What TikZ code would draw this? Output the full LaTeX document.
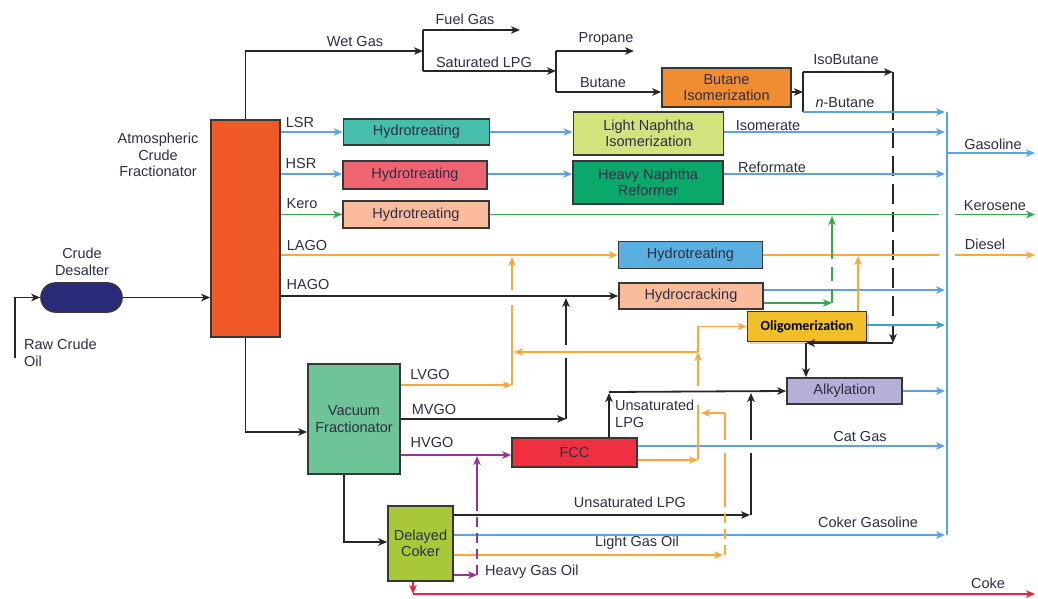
\documentclass[tikz,border=0pt]{standalone}
\usepackage{fontspec}
\setmainfont{Liberation Sans}
\newfontfamily\calib{Carlito}
\usetikzlibrary{arrows.meta,shadows}
\definecolor{lblue}{RGB}{90,165,225}
\definecolor{lorange}{RGB}{250,168,60}
\definecolor{lgreen}{RGB}{50,170,75}
\definecolor{lpurple}{RGB}{150,50,160}
\definecolor{lred}{RGB}{235,35,65}
\definecolor{lteal}{RGB}{55,165,200}
\definecolor{txt}{RGB}{45,45,70}
\definecolor{edge}{RGB}{55,55,55}
\definecolor{cacf}{RGB}{240,90,40}
\definecolor{cdes}{RGB}{40,42,122}
\definecolor{cvf}{RGB}{110,196,150}
\definecolor{ccok}{RGB}{168,200,58}
\definecolor{clsr}{RGB}{70,190,172}
\definecolor{chsr}{RGB}{238,100,112}
\definecolor{cpeach}{RGB}{250,188,155}
\definecolor{clni}{RGB}{212,226,126}
\definecolor{chnr}{RGB}{10,168,106}
\definecolor{cbiso}{RGB}{240,140,50}
\definecolor{cdht}{RGB}{90,175,225}
\definecolor{colig}{RGB}{240,190,40}
\definecolor{calky}{RGB}{180,176,216}
\definecolor{cfcc}{RGB}{238,48,64}
\tikzset{
  box/.style={draw=edge, line width=1.6pt, inner sep=0pt, align=center, text=txt, font=\fontsize{14.5}{16.5}\selectfont},
  lbl/.style={text=txt, font=\fontsize{14.5}{16.5}\selectfont, inner sep=0pt, align=center},
  tip/.style={-{Stealth[length=9pt,width=7.5pt,inset=2.5pt]}},
  kl/.style={draw=black!85, line width=1.8pt},
  bl/.style={draw=lblue, line width=1.8pt},
  ol/.style={draw=lorange, line width=1.8pt},
  gl/.style={draw=lgreen, line width=1.8pt},
  pl/.style={draw=lpurple, line width=1.8pt},
  rl/.style={draw=lred, line width=1.8pt},
  tl/.style={draw=lteal, line width=1.8pt},
  ka/.style={kl,tip}, ba/.style={bl,tip}, oa/.style={ol,tip}, ga/.style={gl,tip},
  pa/.style={pl,tip}, ra/.style={rl,tip}, ta/.style={tl,tip},
}
\begin{document}
\begin{tikzpicture}[x=1pt,y=-1pt]
\useasboundingbox (0,0) rectangle (1038,599);
% ---- units ----
\node[box, fill=cacf, minimum width=69pt, minimum height=217pt] (acf) at (245.5,228.5) {};
\node[box, fill=cdes, minimum width=81pt, minimum height=29pt, rounded corners=14.5pt] (des) at (81.5,297.5) {};
\node[box, fill=cvf, minimum width=92pt, minimum height=110pt] (vf) at (354,419) {Vacuum\\Fractionator};
\node[box, fill=ccok, minimum width=65pt, minimum height=75pt] (cok) at (420.5,543.5) {Delayed\\Coker};
\node[box, fill=clsr, minimum width=146pt, minimum height=26pt] (lsrht) at (416.5,132) {Hydrotreating};
\node[box, fill=chsr, minimum width=144pt, minimum height=28pt] (hsrht) at (415,175) {Hydrotreating};
\node[box, fill=cpeach, minimum width=146pt, minimum height=27pt] (kerht) at (416,214.5) {Hydrotreating};
\node[box, fill=clni, minimum width=150pt, minimum height=43pt] (lni) at (648.5,133.5) {Light Naphtha\\Isomerization};
\node[box, fill=chnr, minimum width=150pt, minimum height=43pt] (hnr) at (648,182.5) {Heavy Naphtha\\Reformer};
\node[box, fill=cbiso, minimum width=129pt, minimum height=39pt] (biso) at (726.5,87.5) {Butane\\Isomerization};
\node[box, fill=cdht, minimum width=144pt, minimum height=27pt] (dht) at (690.5,255) {Hydrotreating};
\node[box, fill=cpeach, minimum width=144pt, minimum height=26pt] (hcr) at (691,296) {Hydrocracking};
\node[box, fill=colig, minimum width=119pt, minimum height=30pt, text=black, font=\calib\bfseries\fontsize{14}{16}\selectfont, drop shadow={shadow xshift=2pt, shadow yshift=-2pt, opacity=0.35}] (olig) at (807,326.5) {Oligomerization};
\node[box, fill=calky, minimum width=115pt, minimum height=26pt] (alky) at (844.5,391) {Alkylation};
\node[box, fill=cfcc, minimum width=125pt, minimum height=29pt] (fcc) at (574.5,452.5) {FCC};
% ---- labels ----
\node[lbl] (tacf) at (158,155) {Atmospheric\\Crude\\Fractionator};
\node[lbl] (tdes) at (82,262) {Crude\\Desalter};
\node[lbl, anchor=north west, align=left] (traw) at (24,339) {Raw Crude\\Oil};
\node[lbl] (twet) at (355,42) {Wet Gas};
\node[lbl] (tfuel) at (465,19) {Fuel Gas};
\node[lbl] (tsat) at (484,62) {Saturated LPG};
\node[lbl] (tprop) at (606,39) {Propane};
\node[lbl] (tbut) at (603,83) {Butane};
\node[lbl] (tiso) at (846,60) {IsoButane};
\node[lbl] (tnbut) at (845,103) {\textit{n}-Butane};
\node[lbl] (tisom) at (768,126) {Isomerate};
\node[lbl] (tref) at (772,167) {Reformate};
\node[lbl] (tgas) at (993,144) {Gasoline};
\node[lbl] (tker) at (995,206) {Kerosene};
\node[lbl] (tdie) at (985,244) {Diesel};
\node[lbl] (tlsr) at (300,123) {LSR};
\node[lbl] (thsr) at (301,164) {HSR};
\node[lbl] (tkero) at (302,204) {Kero};
\node[lbl] (tlago) at (307,246) {LAGO};
\node[lbl] (thago) at (308,285) {HAGO};
\node[lbl] (tlvgo) at (430,375) {LVGO};
\node[lbl] (tmvgo) at (434,410) {MVGO};
\node[lbl] (thvgo) at (432,443) {HVGO};
\node[lbl, anchor=north west, align=left] (tulpg1) at (615,400) {Unsaturated\\LPG};
\node[lbl] (tcat) at (860,437) {Cat Gas};
\node[lbl] (tulpg2) at (630,502) {Unsaturated LPG};
\node[lbl] (tcokg) at (868,522) {Coker Gasoline};
\node[lbl] (tlgo) at (637,543) {Light Gas Oil};
\node[lbl, anchor=west] (thgo) at (485,572) {Heavy Gas Oil};
\node[lbl] (tcoke) at (988,583) {Coke};
% ---- junction coordinates ----
\coordinate (raw) at (15,358);
\coordinate (j1) at (423,51);
\coordinate (j2) at (556,71);
\coordinate (j3) at (803,92);
\coordinate (col) at (947,112);
% ---- crude ----
\draw[ka] (raw) |- (des.west);
\draw[ka] (des.east) -- (acf.west |- des.east);
% ---- gas plant ----
\draw[ka] (acf.north) |- (j1);
\draw[kl] (423,30) -- (423,71);
\draw[ka] (423,30) -- (520,30);
\draw[ka] (423,71) -- (j2);
\draw[kl] (556,51) -- (556,92);
\draw[ka] (556,51) -- (634,51);
\draw[ka] (556,92) -- (biso.west |- 0,92);
\draw[ka] (biso.east |- 0,92) -- (j3);
\draw[kl] (803,72) -- (803,112);
\draw[ka] (803,72) -- (893,72);
\draw[kl] (893,72) -- (893,100);
\draw[ka, dash pattern=on 20pt off 8pt] (893,100) -- (893,343);
\draw[ka] (893,343) -- (806,343);
\draw[ka] (806,343) -- (alky.north -| 806,0);
\draw[ba] (803,112) -- (945,112);
% ---- gasoline collector ----
\draw[bl, line width=2pt] (col) -- (947,535);
\draw[ba] (947,153) -- (1035,153);
% ---- straight run ----
\draw[ba] (acf.east |- lsrht.west) -- (lsrht.west);
\draw[ba] (acf.east |- 0,174) -- (hsrht.west |- 0,174);
\draw[ga] (acf.east |- kerht.west) -- (kerht.west);
\draw[oa] (acf.east |- dht.west) -- (dht.west);
\draw[ka] (acf.east |- hcr.west) -- (hcr.west);
\draw[ba] (lsrht.east) -- (lni.west |- lsrht.east);
\draw[ba] (hsrht.east |- 0,174) -- (hnr.west |- 0,174);
\draw[ba] (lni.east |- 0,132) -- (945,132);
\draw[ba] (hnr.east |- 0,174) -- (945,174);
\draw[gl] (kerht.east) -- (939,214.5);
\draw[ga] (955,214.5) -- (1035,214.5);
\draw[ol] (dht.east) -- (939,255);
\draw[oa] (955,255) -- (1035,255);
\draw[ba] (hcr.east |- 0,290) -- (945,290);
\draw[ga] (hcr.east |- 0,303) -- (832,303);
\draw[gl, dash pattern=on 14pt off 8pt] (832,303) -- (832,250);
\draw[ga] (832,250) -- (832,216);
% ---- oligomerization ----
\draw[ta] (olig.east |- 0,325) -- (945,325);
\draw[ol, tip, line width=1.2pt] (olig.north -| 858,0) -- (858,256);
% ---- vacuum ----
\draw[ka] (acf.south) |- (vf.west |- 0,432);
\draw[ka] (vf.south -| 344,0) |- (cok.west |- 0,542);
\draw[oa] (vf.east |- 0,385) -- (512,385);
\draw[ol] (512,385) -- (512,305);
\draw[oa] (512,290) -- (512,257);
\draw[ka] (vf.east |- 0,419) -- (566,419);
\draw[kl] (566,419) -- (566,358);
\draw[ka] (566,345) -- (566,298);
\draw[pa] (vf.east |- 0,455) -- (fcc.west |- 0,455);
% ---- FCC ----
\draw[ka] (fcc.north -| 609,0) -- (609,393);
\draw[ka] (609,392) -- (alky.west);
\draw[ba] (fcc.east |- 0,446) -- (945,446);
\draw[oa] (fcc.east |- 0,460) -- (698,460);
\draw[ol] (698,460) -- (698,405);
\draw[oa] (698,386) -- (698,352);
\draw[oa] (698,352) -- (514,352);
\draw[ol, tip, line width=1.2pt] (698,352) |- (olig.west);
\draw[ba] (alky.east) -- (945,391);
% ---- coker ----
\draw[ka] (cok.east |- 0,515) -- (750,515);
\draw[kl] (751,515) -- (751,453);
\draw[ka] (751,440) -- (751,393);
\draw[ba] (cok.east |- 0,535) -- (945,535);
\draw[oa] (cok.east |- 0,555) -- (723,555);
\draw[ol, dash pattern=on 10pt off 6pt] (725,555) -- (725,505);
\draw[ol] (725,505) -- (725,453);
\draw[ol] (725,440) -- (725,413);
\draw[oa] (725,413) -- (701,413);
\draw[pa] (cok.east |- 0,575) -- (477,575);
\draw[pl, dash pattern=on 10pt off 6pt] (477,575) -- (477,505);
\draw[pa] (477,505) -- (477,456);
\draw[ra] (cok.south -| 413,0) -- (413,594);
\draw[ra] (413,594) -- (1035,594);
\end{tikzpicture}
\end{document}
